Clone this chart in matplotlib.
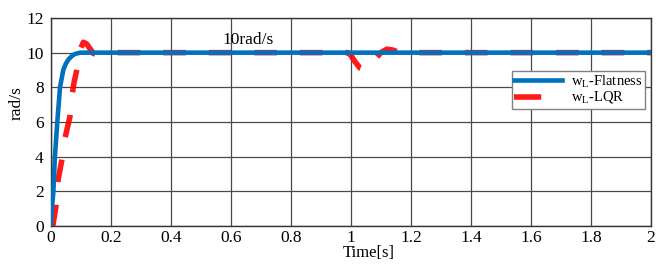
"""
Speed response: flatness control vs LQR (reference 10 rad/s).
"""

import matplotlib
matplotlib.use("Agg")
import matplotlib.pyplot as plt

# Data
t_flat = [0, 0.004, 0.009, 0.014, 0.022, 0.031, 0.042, 0.05, 0.059, 0.07, 0.08, 0.098, 0.12, 2.0]
w_flat = [0, 1.0, 2.0, 4.0, 6.0, 8.0, 9.0, 9.35, 9.6, 9.8, 9.92, 10.0, 10.0, 10.0]

t_lqr = [0, 0.008, 0.018, 0.025, 0.037, 0.048, 0.064, 0.07, 0.078, 0.087, 0.092, 0.1, 0.109,
         0.12, 0.132, 0.142, 0.155, 0.18, 0.99, 1.0, 1.015, 1.031, 1.045, 1.06, 1.075, 1.085,
         1.1, 1.12, 1.14, 1.16, 1.2, 2.0]
w_lqr = [0, 0.1, 1.2, 2.7, 3.8, 5.1, 6.3, 7.4, 8.3, 9.0, 9.5, 10.25, 10.6,
         10.5, 10.2, 9.95, 9.92, 10.0, 10.0, 9.85, 9.45, 9.1, 9.0, 9.15, 9.45, 9.7,
         10.0, 10.2, 10.15, 10.02, 10.0, 10.0]

xticks = [0, 0.2, 0.4, 0.6, 0.8, 1.0, 1.2, 1.4, 1.6, 1.8, 2.0]
xtick_labels = ["0", "0.2", "0.4", "0.6", "0.8", "1", "1.2", "1.4", "1.6", "1.8", "2"]
yticks = [0, 2, 4, 6, 8, 10, 12]

plt.rcParams['font.family'] = ['Liberation Serif', 'DejaVu Serif']
plt.rcParams['mathtext.fontset'] = 'custom'
plt.rcParams['mathtext.rm'] = 'Liberation Serif'

fig = plt.figure(figsize=(6.67, 2.66), dpi=100)
ax = fig.add_axes([0.076, 0.150, 0.9, 0.7825])

ax.plot(t_lqr, w_lqr, color='#ff0000', lw=4.0, linestyle=(0, (4.1, 4.1)),
        label=r'w$_{\mathregular{L}}$-LQR', zorder=2, alpha=0.9)
ax.plot(t_flat, w_flat, color='#0072bd', lw=3.3,
        label=r'w$_{\mathregular{L}}$-Flatness ', zorder=3)

ax.set_xlim(0, 2)
ax.set_ylim(0, 12)
ax.set_xticks(xticks)
ax.set_xticklabels(xtick_labels)
ax.set_yticks(yticks)
ax.tick_params(labelsize=12.5, length=0)
ax.tick_params(axis='x', pad=2.5)
ax.tick_params(axis='y', pad=5)
ax.grid(True, color='#4a4a4a', lw=0.9)
ax.set_axisbelow(True)
for s in ax.spines.values():
    s.set_color('#333333')
    s.set_linewidth(1.0)

ax.set_xlabel("Time[s]", fontsize=12)
ax.xaxis.set_label_coords(0.529, -0.092)
ax.set_ylabel("rad/s", fontsize=12.5)
ax.yaxis.set_label_coords(-0.043, 0.59)

ax.text(0.573, 10.51, "10rad/s", fontsize=12.5)

# legend: Flatness first, then LQR
h, l = ax.get_legend_handles_labels()
leg = ax.legend(h[::-1], l[::-1], loc='upper right', bbox_to_anchor=(0.9905, 0.745),
                fontsize=10.5, frameon=True, fancybox=False, handlelength=3.3,
                labelspacing=0.0, borderpad=0.15, handletextpad=0.6,
                borderaxespad=0.0)
leg.get_frame().set_edgecolor('#808080')
leg.get_frame().set_linewidth(1.0)
leg.get_frame().set_alpha(1.0)
leg.get_lines()[1].set_linestyle((0, (4.9, 10)))

fig.savefig("out.png", dpi=100)
